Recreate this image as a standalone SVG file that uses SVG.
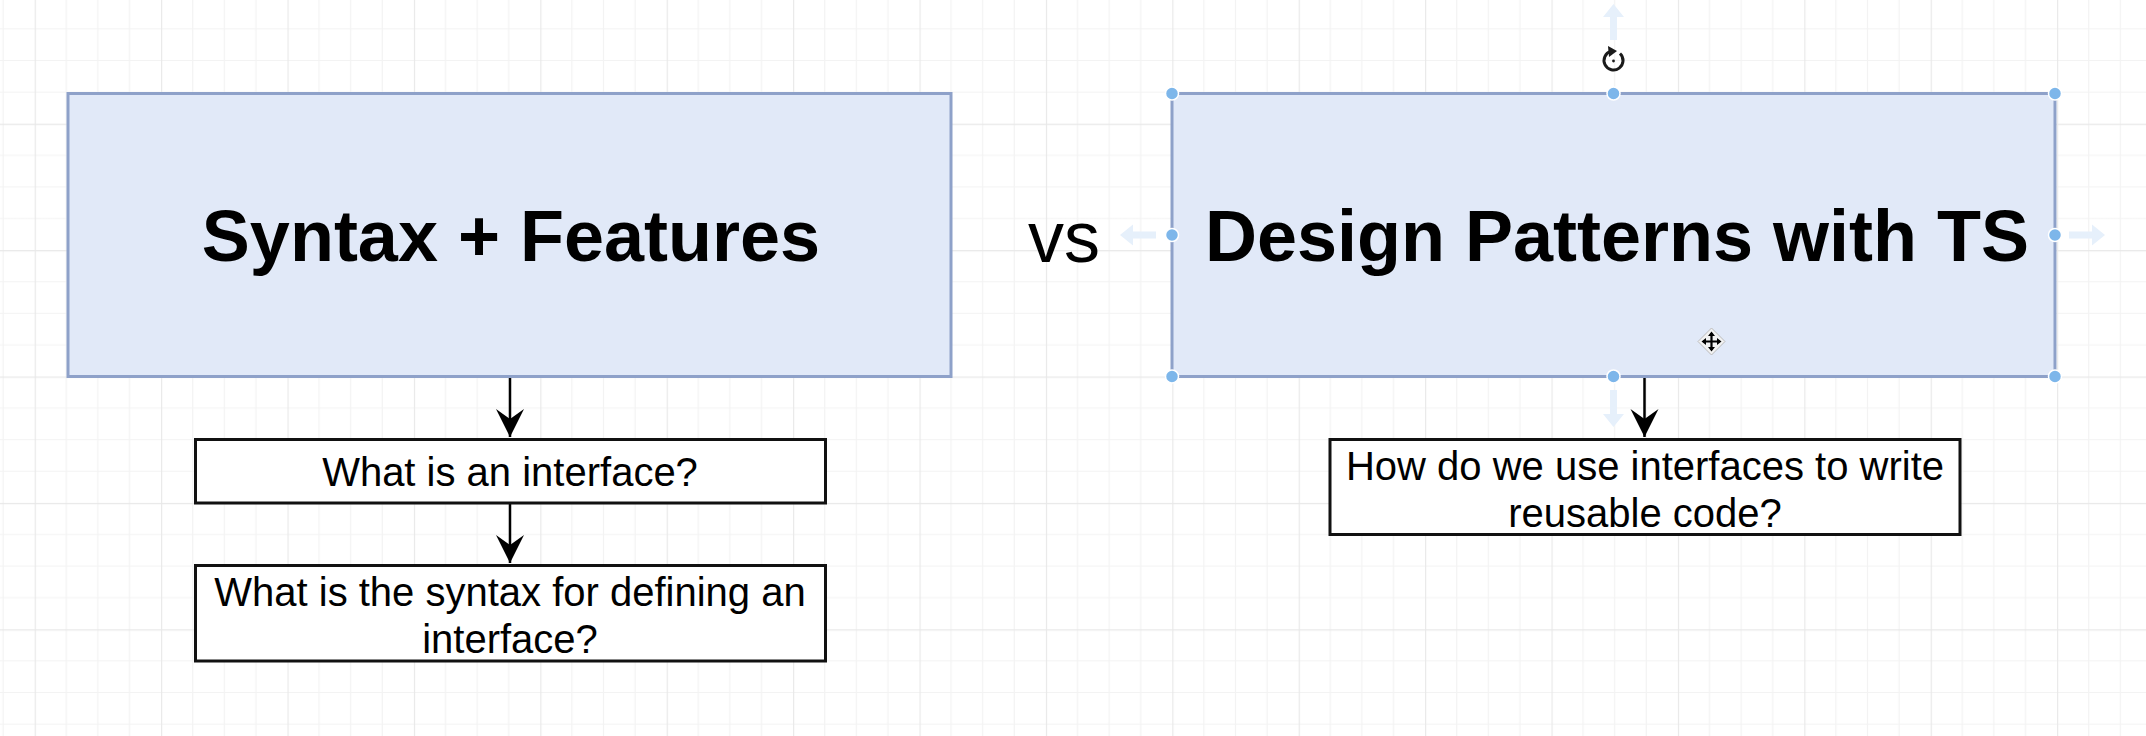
<svg xmlns="http://www.w3.org/2000/svg" width="2146" height="736" viewBox="0 0 2146 736">
  <style>
    .big { fill: #e1e9f8; stroke: #8ea1c9; stroke-width: 3; }
    .sub { fill: #ffffff; stroke: #111111; stroke-width: 3; }
    .title { font-family: "Liberation Sans", Arial, sans-serif; font-weight: bold; font-size: 72px; fill: #000; text-anchor: middle; }
    .vs { font-family: "Liberation Sans", Arial, sans-serif; font-size: 72px; fill: #000; }
    .q { font-family: "Liberation Sans", Arial, sans-serif; font-size: 40px; fill: #000; text-anchor: middle; }
    .edge { fill: none; stroke: #000; stroke-width: 2.5; }
    .handle { fill: #7db6ea; stroke: #ffffff; stroke-width: 1.5; }
    .hint { fill: #e6f0fb; }
  </style>
  <defs>
    <pattern id="grid" patternUnits="userSpaceOnUse" x="34.7" y="123.7" width="126.4" height="126.4">
      <path d="M31.6 0V126.4M63.2 0V126.4M94.8 0V126.4M0 31.6H126.4M0 63.2H126.4M0 94.8H126.4" stroke="#f3f3f3" stroke-width="1.2" fill="none"/>
      <path d="M0.5 0V126.4M0 0.5H126.4" stroke="#e8e8e8" stroke-width="1.3" fill="none"/>
    </pattern>
    <marker id="arr" markerUnits="userSpaceOnUse" markerWidth="30" markerHeight="30" viewBox="0 0 30 30" refX="28" refY="15" orient="auto">
      <path d="M28 15 L0 1 L10 15 L0 29 Z" fill="#000"/>
    </marker>
  </defs>
  <rect width="2146" height="736" fill="#ffffff"/>
  <rect width="2146" height="736" fill="url(#grid)"/>

  <g id="connectors">
    <path class="edge" d="M510 377 V437" marker-end="url(#arr)"/>
    <path class="edge" d="M510 503 V563" marker-end="url(#arr)"/>
    <path class="edge" d="M1644.5 377 V437" marker-end="url(#arr)"/>
  </g>

  <g id="node-syntax">
    <rect class="big" x="68" y="93.5" width="883" height="283"/>
    <text class="title" x="511" y="261">Syntax + Features</text>
  </g>

  <g id="node-vs">
    <text class="vs" x="1028" y="262">vs</text>
  </g>

  <g id="node-design">
    <rect class="big" x="1172" y="93.5" width="883" height="283"/>
    <text class="title" x="1617" y="261">Design Patterns with TS</text>
  </g>

  <g id="node-what-interface">
    <rect class="sub" x="195.5" y="439.5" width="630" height="63.5"/>
    <text class="q" x="510" y="486">What is an interface?</text>
  </g>

  <g id="node-syntax-interface">
    <rect class="sub" x="195.5" y="565.5" width="630" height="95.5"/>
    <text class="q" x="510" y="606">What is the syntax for defining an</text>
    <text class="q" x="510" y="653">interface?</text>
  </g>

  <g id="node-reusable">
    <rect class="sub" x="1330" y="439.5" width="630" height="95"/>
    <text class="q" x="1645" y="480">How do we use interfaces to write</text>
    <text class="q" x="1645" y="527">reusable code?</text>
  </g>

  <g id="selection-ui">
    <path class="hint" d="M1613.5 4 L1624 17 L1617 17 L1617 40 L1610 40 L1610 17 L1603 17 Z"/>
    <path class="hint" d="M1613.5 427 L1624 414 L1617 414 L1617 390 L1610 390 L1610 414 L1603 414 Z"/>
    <path class="hint" d="M1120 235 L1133 224.5 L1133 231.5 L1156 231.5 L1156 238.5 L1133 238.5 L1133 245.5 Z"/>
    <path class="hint" d="M2105 235 L2092 224.5 L2092 231.5 L2069 231.5 L2069 238.5 L2092 238.5 L2092 245.5 Z"/>
    <circle class="handle" cx="1172" cy="93.5" r="6.5"/>
    <circle class="handle" cx="1613.5" cy="93.5" r="6.5"/>
    <circle class="handle" cx="2055" cy="93.5" r="6.5"/>
    <circle class="handle" cx="1172" cy="235" r="6.5"/>
    <circle class="handle" cx="2055" cy="235" r="6.5"/>
    <circle class="handle" cx="1172" cy="376.5" r="6.5"/>
    <circle class="handle" cx="1613.5" cy="376.5" r="6.5"/>
    <circle class="handle" cx="2055" cy="376.5" r="6.5"/>
    <path d="M1620 53.5 A9.5 9.5 0 1 1 1611 51.3" fill="none" stroke="#1a1a1a" stroke-width="3"/>
    <path d="M1608 46 L1617 51 L1609 57 Z" fill="#1a1a1a"/>
    <circle cx="1613.5" cy="61" r="1.4" fill="#1a1a1a"/>
    <path d="M1711.5 328 L1725 341.5 L1711.5 355 L1698 341.5 Z" fill="#f2f2f2" stroke="#bbbbbb" stroke-width="1"/>
    <path d="M1711.5 333 V350 M1703 341.5 H1720" stroke="#000" stroke-width="2.2"/>
    <path d="M1711.5 331.5 L1708 336 L1715 336 Z M1711.5 351.5 L1708 347 L1715 347 Z M1701.5 341.5 L1706 338 L1706 345 Z M1721.5 341.5 L1717 338 L1717 345 Z" fill="#000"/>
  </g>
</svg>
